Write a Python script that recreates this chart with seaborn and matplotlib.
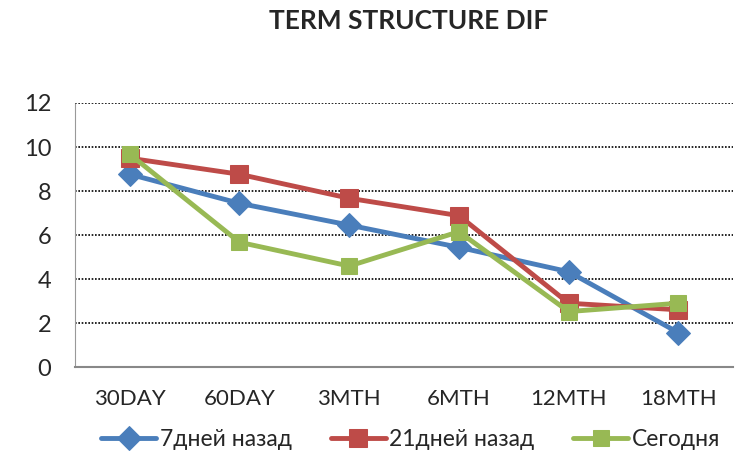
import pandas as pd
import matplotlib.pyplot as plt
import seaborn as sns

# === Data === #
categories = ["30DAY", "60DAY", "3MTH", "6MTH", "12MTH", "18MTH"]
days7 = [8.76, 7.44, 6.45, 5.44, 4.33, 1.56]
days21 = [9.49, 8.76, 7.67, 6.88, 2.90, 2.60]
today = [9.67, 5.67, 4.59, 6.15, 2.52, 2.90]
series_names = ["7дней назад", "21дней назад", "Сегодня"]

df = pd.DataFrame({
    "pos": list(range(len(categories))) * 3,
    "value": days7 + days21 + today,
    "series": [s for s in series_names for _ in categories],
})

sns.set_style("white")
plt.rcParams['font.family'] = ['Lato', 'DejaVu Sans']

colors = {"7дней назад": "#4A7EBB", "21дней назад": "#BE4B48", "Сегодня": "#98B954"}
markers = {"7дней назад": "D", "21дней назад": "s", "Сегодня": "s"}
msizes = {"7дней назад": 12, "21дней назад": 13.5, "Сегодня": 11}

fig = plt.figure(figsize=(7.49, 4.59), dpi=100)
ax = fig.add_axes([0.1, 0.2004, 0.879, 0.5752])

for name in series_names:
    sub = df[df["series"] == name]
    sns.lineplot(data=sub, x="pos", y="value", ax=ax, color=colors[name],
                 linewidth=3.5, marker=markers[name], markersize=msizes[name],
                 markeredgecolor=colors[name], label=name)

ax.set_xlim(-0.5, 5.5)
ax.set_ylim(0, 12)
ax.set_yticks(range(0, 13, 2))
ax.set_xticks(range(len(categories)))
ax.set_xticklabels(categories)
ax.set_xticks([i - 0.5 for i in range(len(categories) + 1)], minor=True)
ax.tick_params(axis="x", which="major", length=0, pad=16, labelsize=16)
ax.tick_params(axis="x", which="minor", length=5, color="#888888", width=1.2)
ax.tick_params(axis="y", length=6, color="#999999", labelsize=17, pad=11)
ax.set_xlabel("")
ax.set_ylabel("")

ax.yaxis.grid(True, linestyle=(0, (1, 1)), color="black", linewidth=1.2)
ax.set_axisbelow(True)
for side in ["top", "right"]:
    ax.spines[side].set_visible(False)
ax.spines["left"].set_linestyle((0, (1, 1)))
ax.spines["left"].set_color("#999999")
ax.spines["bottom"].set_color("#888888")
ax.spines["bottom"].set_linewidth(1.5)

fig.suptitle("TERM STRUCTURE DIF", x=0.545, y=0.98, fontsize=19, fontweight="bold")

ax.legend(loc="upper center", bbox_to_anchor=(0.51, -0.155), ncol=3, frameon=False,
          fontsize=16.5, handlelength=2.4, columnspacing=1.7, handletextpad=0.15)

plt.savefig("out.png", dpi=100)
plt.close()
